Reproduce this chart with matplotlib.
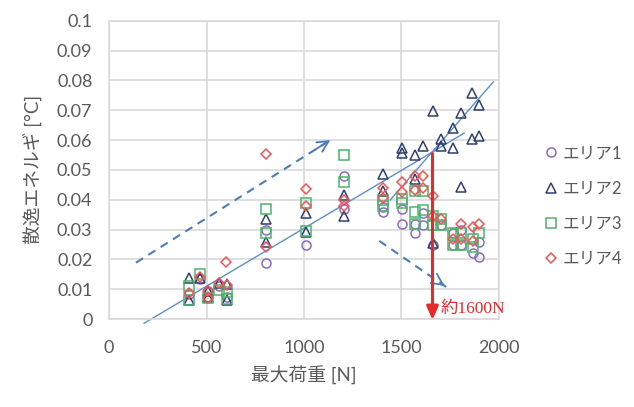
import matplotlib
matplotlib.use("Agg")
import matplotlib.pyplot as plt
from matplotlib.lines import Line2D

plt.rcParams['font.family'] = ['Lato', 'Noto Sans CJK JP']

# エリア1 (circle)
a1_x = [408, 466, 505, 562, 607, 803, 803, 1008, 1207, 1207, 1403, 1403, 1502, 1502,
        1567, 1567, 1610, 1610, 1660, 1702, 1763, 1763, 1804, 1804, 1865, 1900, 1900]
a1_y = [0.0085, 0.0134, 0.0094, 0.011, 0.0075, 0.030, 0.0189, 0.0248, 0.048, 0.037,
        0.0376, 0.036, 0.037, 0.032, 0.032, 0.029, 0.0354, 0.0315, 0.025, 0.0315,
        0.0287, 0.0248, 0.0298, 0.0248, 0.022, 0.026, 0.0207]
# エリア2 (triangle)
a2_x = [408, 408, 466, 505, 505, 562, 607, 607, 803, 803, 1008, 1008, 1207, 1207,
        1403, 1403, 1502, 1502, 1567, 1567, 1610, 1660, 1660, 1702, 1702, 1763, 1763,
        1804, 1804, 1860, 1860, 1900, 1900]
a2_y = [0.0137, 0.0064, 0.0138, 0.0094, 0.0075, 0.012, 0.0117, 0.0064, 0.0337, 0.026,
        0.0356, 0.0293, 0.0415, 0.0345, 0.0488, 0.043, 0.0573, 0.0556, 0.055, 0.047,
        0.058, 0.0698, 0.0254, 0.0605, 0.058, 0.0639, 0.0572, 0.069, 0.0443, 0.0758,
        0.0605, 0.0717, 0.0614]
# エリア3 (square)
a3_x = [408, 408, 466, 505, 562, 607, 607, 803, 803, 1008, 1008, 1207, 1207, 1403, 1403,
        1502, 1502, 1567, 1567, 1567, 1610, 1610, 1660, 1660, 1702, 1702, 1763, 1763,
        1804, 1804, 1865, 1865, 1900]
a3_y = [0.0112, 0.0064, 0.015, 0.0071, 0.0097, 0.0092, 0.0066, 0.037, 0.029, 0.039,
        0.0296, 0.055, 0.046, 0.040, 0.038, 0.0404, 0.0388, 0.043, 0.036, 0.032, 0.043,
        0.0365, 0.0345, 0.0315, 0.0337, 0.0315, 0.0287, 0.0248, 0.0287, 0.0248, 0.027,
        0.0242, 0.029]
# エリア4 (diamond)
a4_x = [408, 466, 505, 505, 562, 602, 607, 803, 803, 1008, 1008, 1207, 1207, 1403, 1403,
        1502, 1502, 1567, 1567, 1610, 1610, 1660, 1660, 1702, 1763, 1804, 1804, 1865,
        1865, 1900]
a4_y = [0.0087, 0.014, 0.0094, 0.007, 0.012, 0.0192, 0.0113, 0.0555, 0.024, 0.0435,
        0.038, 0.040, 0.038, 0.0438, 0.0405, 0.046, 0.0426, 0.048, 0.0434, 0.048, 0.0438,
        0.0412, 0.0345, 0.0334, 0.0267, 0.032, 0.0267, 0.031, 0.0262, 0.032]

labels = ['エリア1', 'エリア2', 'エリア3', 'エリア4']

# trend lines and arrows (data coords)
trend_main = ([180, 1821], [-0.0014, 0.0623])
trend_steep = ([1442, 1971], [0.0399, 0.0795])
arrow_up = ((138, 0.0189), (1147, 0.0605))
arrow_down = ((1386, 0.0262), (1733, 0.0106))
red_x = 1659

fig = plt.figure(figsize=(6.34, 4.07), dpi=100)
ax = fig.add_axes([0.172, 0.216, 0.615, 0.733])

grey = '#595959'
gridc = '#d9d9d9'
tl = '#5b8fc9'

ax.plot(*trend_main, color=tl, lw=1, clip_on=False, zorder=2)
ax.plot(*trend_steep, color=tl, lw=1, zorder=2)

for (x0, y0), (x1, y1) in [arrow_up, arrow_down]:
    ax.plot([x0, x1], [y0, y1], color='#4a7ebb', lw=1.5, ls=(0, (4, 3)), zorder=2)
    ax.annotate('', xy=(x1, y1), xytext=(x0 + (x1 - x0) * 0.9, y0 + (y1 - y0) * 0.9),
                arrowprops=dict(arrowstyle='->,head_length=0.8,head_width=0.4',
                                color='#4a7ebb', lw=1.3))

styles = [('o', '#8a6bbe'), ('^', '#2e3f6f'), ('s', '#4cb46a'), ('D', '#f05555')]
series = [(a1_x, a1_y), (a2_x, a2_y), (a3_x, a3_y), (a4_x, a4_y)]
ms = [6.5, 6.5, 6.5, 5]
for (xs, ys), (m, c), s in zip(series, styles, ms):
    ax.plot(xs, ys, ls='none', marker=m, ms=s, mfc='none', mec=c, mew=1.1, zorder=3)

ax.annotate('', xy=(red_x, -0.0003), xytext=(red_x, 0.0555), annotation_clip=False,
            arrowprops=dict(arrowstyle='-|>,head_length=0.8,head_width=0.35',
                            color='#e52b2b', lw=2.2, shrinkA=0, shrinkB=0), zorder=4)
ax.text(1700, 0.0035, '約1600N', color='#e52b2b', fontsize=12.5, va='center',
        family=['Liberation Serif', 'Noto Sans CJK JP'])

ax.set_xlim(0, 2000)
ax.set_ylim(0, 0.1)
ax.set_xticks([0, 500, 1000, 1500, 2000])
ax.set_yticks([i / 100 for i in range(11)])
ax.set_yticklabels(['0', '0.01', '0.02', '0.03', '0.04', '0.05', '0.06', '0.07',
                    '0.08', '0.09', '0.1'])
ax.grid(True, color=gridc, lw=1.2)
ax.set_axisbelow(True)
for sp in ax.spines.values():
    sp.set_color(gridc)
    sp.set_linewidth(1.2)
ax.tick_params(length=0, labelsize=13, colors=grey)
ax.tick_params(axis='y', pad=12)
ax.tick_params(axis='x', pad=15)
ax.set_xlabel('最大荷重 [N]', fontsize=13.5, color=grey, labelpad=7)
ax.set_ylabel('散逸エネルギ [°C]', fontsize=13.5, color=grey, labelpad=10)

handles = [Line2D([], [], ls='none', marker=m, ms=s, mfc='none', mec=c, mew=1.1)
           for (m, c), s in zip(styles, ms)]
fig.legend(handles, labels, loc='center left', bbox_to_anchor=(0.838, 0.494),
           frameon=False, fontsize=12, labelcolor=grey, handlelength=0.6,
           handletextpad=0.4, labelspacing=1.15)

fig.savefig('out.png', dpi=100)
